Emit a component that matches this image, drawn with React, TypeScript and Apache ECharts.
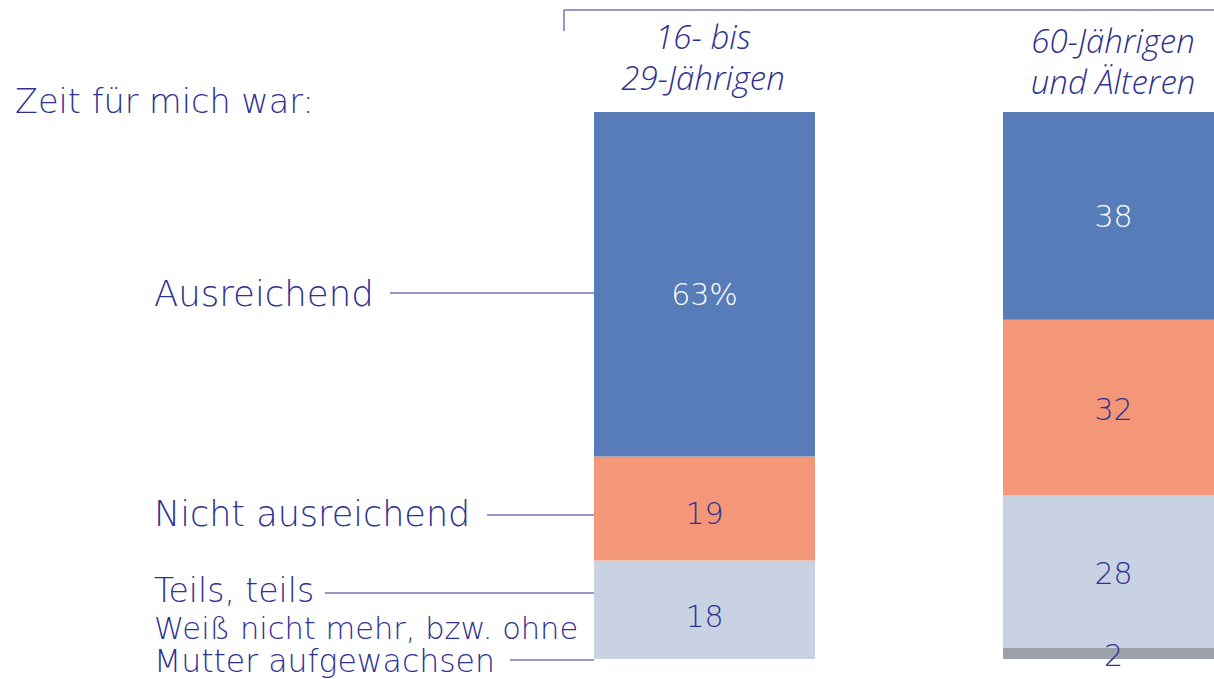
import React, { useEffect, useRef } from "react";
import * as echarts from "echarts";

const categories = ["16- bis\n29-Jährigen", "60-Jährigen\nund Älteren"];
const ausreichend = [63, 38];
const nichtAusreichend = [19, 32];
const teilsTeils = [18, 28];
const weissNicht = [0, 2];
const rowLabels = ["Ausreichend", "Nicht ausreichend", "Teils, teils", "Weiß nicht mehr, bzw. ohne", "Mutter aufgewachsen"];
const heading = "Zeit für mich war:";

const DARK = "#2e3192";
const FONT = "'DejaVu Sans', sans-serif";
const HFONT = "'Open Sans', 'DejaVu Sans', sans-serif";

export default function App() {
  const ref = useRef<HTMLDivElement>(null);
  useEffect(() => {
    if (!ref.current) return;
    const chart = echarts.init(ref.current, null, { renderer: "svg" });
    const label = (color: string, fmt?: (p: any) => string) => ({
      show: true,
      position: "inside" as const,
      color,
      fontSize: 30,
      fontFamily: FONT,
      fontWeight: 200 as any,
      formatter: (p: any) => (p.value === 0 ? "" : fmt ? fmt(p) : String(p.value)),
    });
    const mkData = (vals: number[], offsets: number[]) =>
      vals.map((v, i) => ({ value: v, label: { offset: [0, offsets[i]] } }));
    const lineStyle = { stroke: DARK, lineWidth: 1.2 };
    const txt = (x: number, y: number, text: string, size: number, extra: any = {}) => ({
      type: "text",
      x,
      y,
      style: { text, fontSize: size, fill: DARK, fontFamily: FONT, fontWeight: 200, textVerticalAlign: "middle", ...extra },
    });
    const head = (x: number, y: number, text: string) =>
      txt(x, y, text, 33, { textAlign: "center", fontStyle: "italic", fontFamily: HFONT, fontWeight: 300, lineHeight: 41 });
    chart.setOption({
      animation: false,
      grid: { left: 500, top: 112, width: 818, bottom: 20 },
      xAxis: {
        type: "category",
        data: categories,
        position: "top",
        axisLine: { show: false },
        axisTick: { show: false },
        axisLabel: { show: false },
      },
      yAxis: { type: "value", min: 0, max: 100, show: false },
      series: [
        {
          name: rowLabels[3],
          type: "bar",
          stack: "s",
          barWidth: 221,
          data: mkData(weissNicht, [0, 2]),
          itemStyle: { color: "#9da2a8" },
          label: label(DARK),
        },
        {
          name: rowLabels[2],
          type: "bar",
          stack: "s",
          barWidth: 221,
          data: mkData(teilsTeils, [7, 2]),
          itemStyle: { color: "#c8d2e3" },
          label: label(DARK),
        },
        {
          name: rowLabels[1],
          type: "bar",
          stack: "s",
          barWidth: 221,
          data: mkData(nichtAusreichend, [5, 2]),
          itemStyle: { color: "#f49678" },
          label: label(DARK),
        },
        {
          name: rowLabels[0],
          type: "bar",
          stack: "s",
          barWidth: 221,
          data: mkData(ausreichend, [10, 1]),
          itemStyle: { color: "#577cb8" },
          label: label("#ffffff", (p: any) => (p.dataIndex === 0 ? p.value + "%" : String(p.value))),
        },
      ],
      graphic: [
        txt(15, 101, heading, 33.5),
        txt(154, 293, rowLabels[0], 35.5),
        { type: "line", shape: { x1: 390, y1: 293, x2: 594, y2: 293 }, style: lineStyle },
        txt(154, 514, rowLabels[1], 35),
        { type: "line", shape: { x1: 487, y1: 515, x2: 594, y2: 515 }, style: lineStyle },
        txt(154, 590, rowLabels[2], 33),
        { type: "line", shape: { x1: 325, y1: 593, x2: 594, y2: 593 }, style: lineStyle },
        txt(154, 628, rowLabels[3], 30.5),
        txt(154, 661, rowLabels[4], 31.5),
        { type: "line", shape: { x1: 510, y1: 660, x2: 594, y2: 660 }, style: lineStyle },
        { type: "polyline", shape: { points: [[564, 31], [564, 10], [1300, 10]] }, style: { stroke: DARK, lineWidth: 1, fill: null } },
        head(703, 57, categories[0]),
        head(1113, 61, categories[1]),
      ],
    });
    return () => chart.dispose();
  }, []);
  return (
    <div style={{ position: "absolute", left: 0, top: 0, width: 1214, height: 679, overflow: "hidden", background: "#ffffff" }}>
      <div ref={ref} style={{ width: 1400, height: 679 }} />
    </div>
  );
}
